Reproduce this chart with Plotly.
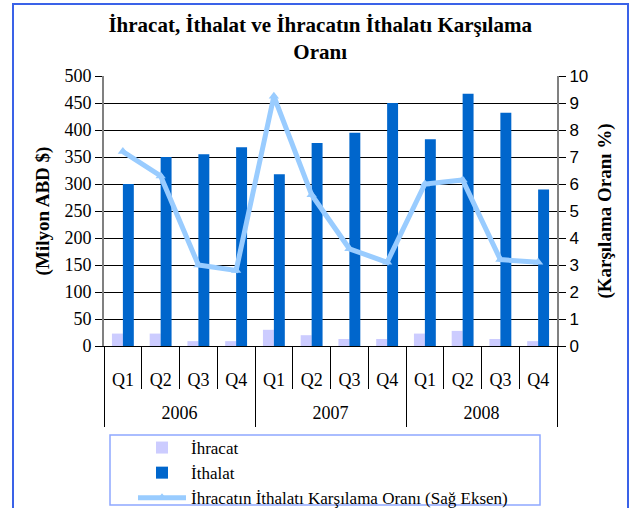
import plotly.graph_objects as go

years = ["2006"] * 4 + ["2007"] * 4 + ["2008"] * 4
quarters = ["Q1", "Q2", "Q3", "Q4"] * 3
year_labels = ["2006", "2007", "2008"]
ihracat = [23, 23, 9, 9, 30, 20, 13, 13, 23, 28, 13, 9]
ithalat = [300, 350, 355, 368, 318, 376, 395, 450, 383, 467, 432, 290]
oran = [7.2, 6.3, 3.0, 2.8, 9.25, 5.6, 3.6, 3.1, 6.0, 6.15, 3.2, 3.1]
left_ticks = list(range(0, 501, 50))
right_ticks = list(range(0, 11))

serif = "Liberation Serif, Times New Roman, serif"
sans = "Liberation Sans, Arial, sans-serif"

x = [years, quarters]
n = len(quarters)

fig = go.Figure()
fig.add_trace(go.Bar(x=x, y=ihracat, name="İhracat", marker_color="#CCCCFF",
                     marker_line_width=0))
fig.add_trace(go.Bar(x=x, y=ithalat, name="İthalat", marker_color="#0066CC",
                     marker_line_width=0))
fig.add_trace(go.Scatter(x=x, y=oran, name="İhracatın İthalatı Karşılama Oranı (Sağ Eksen)",
                         yaxis="y2", mode="lines+markers",
                         line=dict(color="#99CCFF", width=5),
                         marker=dict(symbol="triangle-up", size=9, color="#99CCFF")))

L, R, T, B = 104, 77, 76, 162
W, H = 634, 508
pw, ph = W - L - R, H - T - B

def px(xp):
    return (xp - L) / pw

def py(yp):
    return (H - B - yp) / ph

rng = [-0.5, n - 0.5]
q_pos = list(range(n))
q_bounds = [i - 0.5 for i in range(n + 1)]
yr_pos = [years.index(y) + (years.count(y) - 1) / 2 for y in year_labels]
yr_bounds = [years.index(y) - 0.5 for y in year_labels] + [n - 0.5]

common = dict(overlaying="x", anchor="y", side="bottom", range=rng, showgrid=False,
              showline=False, zeroline=False, tickcolor="black", tickwidth=1,
              tickfont=dict(family=serif, size=18, color="black"))

fig.update_layout(
    width=W, height=H,
    margin=dict(l=L, r=R, t=T, b=B, autoexpand=False),
    paper_bgcolor="white", plot_bgcolor="white",
    barmode="group", bargap=0.42, bargroupgap=0,
    title=dict(text="İhracat, İthalat ve İhracatın İthalatı Karşılama<br>Oranı",
               x=0.505, xanchor="center", y=1 - 32 / H, yanchor="middle",
               font=dict(family=serif, size=21, color="black", weight="bold")),
    font=dict(family=serif, size=18, color="black"),
    showlegend=True,
    legend=dict(x=px(133), y=py(430), xanchor="left", yanchor="top",
                bgcolor="rgba(0,0,0,0)", borderwidth=0, itemwidth=48,
                font=dict(family=serif, size=17, color="black"),
                tracegroupgap=0),
    xaxis=dict(type="multicategory", range=rng, showline=True, linecolor="black",
               linewidth=1, ticks="", showdividers=False, showticklabels=False,
               showgrid=False),
    xaxis2=dict(common, tickvals=q_pos, ticktext=quarters, ticks="",
                ticklabelstandoff=21),
    xaxis3=dict(common, tickvals=q_bounds, ticks="outside", ticklen=42,
                showticklabels=False),
    xaxis4=dict(common, tickvals=yr_pos, ticktext=year_labels, ticks="",
                ticklabelstandoff=54),
    xaxis5=dict(common, tickvals=yr_bounds, ticks="outside", ticklen=80,
                showticklabels=False),
    yaxis=dict(range=[0, 500], tickvals=left_ticks, showgrid=True, gridcolor="black",
               gridwidth=1, showline=True, linecolor="#808080", linewidth=2,
               ticks="outside", ticklen=7, tickcolor="black", zeroline=False,
               tickfont=dict(family=serif, size=18, color="black"),
               title=dict(text="(Milyon ABD $)", standoff=10,
                          font=dict(family=serif, size=19, color="black", weight="bold"))),
    yaxis2=dict(range=[0, 10], tickvals=right_ticks, overlaying="y", side="right",
                showgrid=False, showline=True, linecolor="#808080", linewidth=2,
                ticks="outside", ticklen=7, tickcolor="black", zeroline=False,
                tickfont=dict(family=sans, size=17, color="black"),
                title=dict(text="(Karşılama Oranı %)", standoff=10,
                           font=dict(family=serif, size=19, color="black", weight="bold"))),
    shapes=[
        dict(type="rect", xref="paper", yref="paper", x0=px(110), x1=px(540),
             y0=py(505), y1=py(435), line=dict(color="#8FA8FF", width=1.5)),
        dict(type="rect", xref="paper", yref="paper", x0=px(13), x1=px(628),
             y0=py(515), y1=py(4), line=dict(color="#3A62E8", width=2)),
    ],
)
for ax in ["x2", "x3", "x4", "x5"]:
    fig.add_trace(go.Scatter(x=[0], y=[0], xaxis=ax, yaxis="y", mode="markers",
                             marker=dict(opacity=0), showlegend=False, hoverinfo="skip"))

fig.write_html("out.html", config={"displayModeBar": False},
               post_script="document.body.style.margin='0';document.body.style.padding='0';")
